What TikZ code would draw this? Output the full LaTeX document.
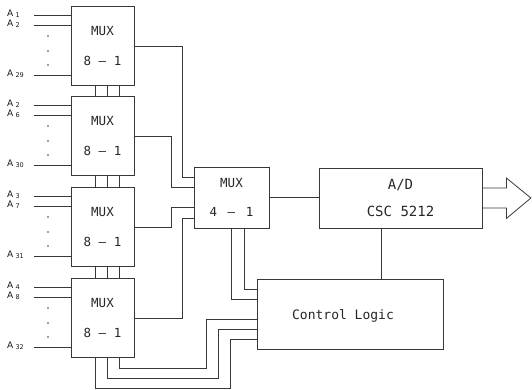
\documentclass[tikz,border=0pt]{standalone}
\usepackage{fontspec}
\newfontfamily\plotfont{DejaVu Sans Mono}
\newfontfamily\labfont{DejaVu Sans}
\tikzset{
  wire/.style={draw=black!78, line width=0.8pt},
  blk/.style={draw=black!78, line width=0.8pt, rectangle, inner sep=0pt, text=black!85, align=center},
  muxbox/.style={blk, minimum width=63pt, minimum height=79pt, font=\plotfont\fontsize{12.5}{30}\selectfont},
  inlab/.style={anchor=west, inner sep=0pt, text=black!90, font=\labfont\fontsize{9}{9}\selectfont},
  dotc/.style={fill=black!75}
}
\newcommand\sublab[1]{A\hspace{2.2pt}\raisebox{-1.2pt}{\fontsize{6.5}{7}\selectfont #1}}
\begin{document}
\begin{tikzpicture}[x=1pt,y=-1pt]
\useasboundingbox (0,0) rectangle (532,389);
% 8-1 multiplexers
\node[muxbox] (mux1) at (102.5,46) {MUX\\8 – 1};
\node[muxbox] (mux2) at (102.5,136) {MUX\\8 – 1};
\node[muxbox] (mux3) at (102.5,227) {MUX\\8 – 1};
\node[muxbox] (mux4) at (102.5,318) {MUX\\8 – 1};
% 4-1 mux, A/D, control
\node[blk, minimum width=75pt, minimum height=61pt, font=\plotfont\fontsize{12.5}{29}\selectfont] (mux41) at (231.5,197.5) {MUX\\4\hspace{3pt} – \hspace{3pt}1};
\node[blk, minimum width=163pt, minimum height=60pt, font=\plotfont\fontsize{14}{27}\selectfont] (ad) at (400.5,198) {A/D\\CSC 5212};
\node[blk, minimum width=186pt, minimum height=70pt] (ctrl) at (350,314) {};
\node[inner sep=0pt, text=black!85, font=\plotfont\fontsize{13}{15}\selectfont] (cltext) at (343,316) {Control Logic};
% inputs
\foreach \m/\a/\b/\c in {mux1/1/2/29, mux2/2/6/30, mux3/3/7/31, mux4/4/8/32} {
  \path (\m.center) ++(-68.5,-31) coordinate (\m-ia);
  \path (\m.center) ++(-68.5,-21) coordinate (\m-ib);
  \path (\m.center) ++(-68.5,29) coordinate (\m-ic);
  \draw[wire] (\m-ia) -- (\m-ia -| \m.west);
  \draw[wire] (\m-ib) -- (\m-ib -| \m.west);
  \draw[wire] (\m-ic) -- (\m-ic -| \m.west);
  \node[inlab] (\m-la) at ([shift={(-27,-1)}]\m-ia) {\sublab{\a}};
  \node[inlab] (\m-lb) at ([shift={(-27,-1)}]\m-ib) {\sublab{\b}};
  \node[inlab] (\m-lc) at ([shift={(-27,-1)}]\m-ic) {\sublab{\c}};
  \fill[dotc] ([shift={(-54.5,-10)}]\m.center) circle (0.9pt);
  \fill[dotc] ([shift={(-54.5,5)}]\m.center) circle (0.9pt);
  \fill[dotc] ([shift={(-54.5,19)}]\m.center) circle (0.9pt);
}
% chain links between the 8-1 muxes
\foreach \u/\l in {mux1/mux2, mux2/mux3, mux3/mux4} {
  \foreach \dx in {-7,5,16.5} {
    \draw[wire] ([xshift=\dx pt]\u.south) -- ([xshift=\dx pt]\l.north);
  }
}
% outputs to 4-1 mux
\draw[wire] (mux1.east) -| ([shift={(-11,-20.5)}]mux41.west) -- ([shift={(0,-20.5)}]mux41.west);
\draw[wire] (mux2.east) -| ([shift={(-22,-10.5)}]mux41.west) -- ([shift={(0,-10.5)}]mux41.west);
\draw[wire] (mux3.east) -| ([shift={(-22,9.5)}]mux41.west) -- ([shift={(0,9.5)}]mux41.west);
\draw[wire] (mux4.east) -| ([shift={(-11,20.5)}]mux41.west) -- ([shift={(0,20.5)}]mux41.west);
% 4-1 mux to A/D
\draw[wire] (mux41.east) -- (mux41.east -| ad.west);
% A/D to control
\draw[wire] ([xshift=-19.5pt]ad.south) -- ([xshift=-19.5pt]ad.south |- ctrl.north);
% 4-1 mux to control
\draw[wire] (mux41.south) |- ([shift={(0,-15)}]ctrl.west);
\draw[wire] ([xshift=12.5pt]mux41.south) |- ([shift={(0,-25)}]ctrl.west);
% bottom mux to control
\draw[wire] ([xshift=16.5pt]mux4.south) -- ++(0,10.5) -| ([shift={(-50,5)}]ctrl.west) -- ([shift={(0,5)}]ctrl.west);
\draw[wire] ([xshift=5pt]mux4.south) -- ++(0,20.5) -| ([shift={(-38,15)}]ctrl.west) -- ([shift={(0,15)}]ctrl.west);
\draw[wire] ([xshift=-7pt]mux4.south) -- ++(0,30) -| ([shift={(-26,25)}]ctrl.west) -- ([shift={(0,25)}]ctrl.west);
% output arrow
\draw[wire] ([shift={(0,-10)}]ad.east) -- ++(24,0) -- ++(0,-10) -- ++(24.5,20) -- ++(-24.5,20.5) -- ++(0,-10.5) -- ([shift={(0,10)}]ad.east);
\end{tikzpicture}
\end{document}
